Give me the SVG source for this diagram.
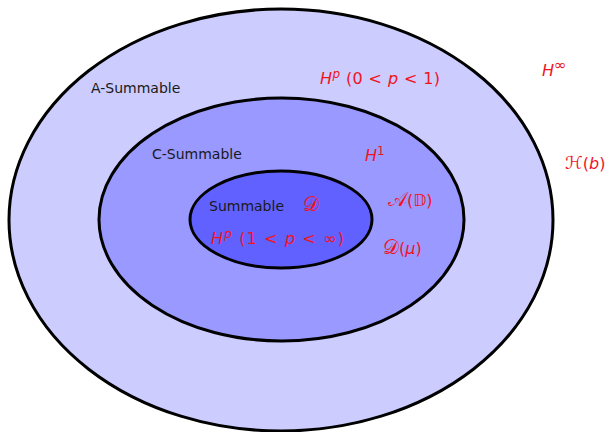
<svg xmlns="http://www.w3.org/2000/svg" width="605" height="432" viewBox="0 0 605 432">
<style>
.e{stroke:#000;stroke-width:3}
.l{font-family:"DejaVu Sans","Liberation Sans",sans-serif;font-size:14px;fill:#1a1a1a}
.m{font-family:"DejaVu Sans","Liberation Sans",sans-serif;font-size:16px;fill:#f0141e}
.i{font-style:italic}
.s{font-size:12px}
.c{font-size:20px}
</style>
<rect width="605" height="432" fill="#fff"/>
<g id="a-summable"><ellipse class="e" cx="281" cy="220" rx="272" ry="211" fill="#ccccff"/></g>
<g id="c-summable"><ellipse class="e" cx="281.5" cy="219.5" rx="182.5" ry="121.5" fill="#9999ff"/></g>
<g id="summable"><ellipse class="e" cx="281" cy="219.5" rx="91" ry="48.5" fill="#6161ff"/></g>
<g id="connectors"></g>
<g id="labels">
<text class="l" x="91" y="93">A-Summable</text>
<text class="l" x="152" y="159">C-Summable</text>
<text class="l" x="209" y="211">Summable</text>
<text class="m" x="320" y="84" textLength="120"><tspan class="i">H</tspan><tspan class="i s" dy="-6">p</tspan><tspan dy="6"> (0 &lt; </tspan><tspan class="i">p</tspan> &lt; 1)</text>
<text class="m" x="542" y="76"><tspan class="i">H</tspan><tspan class="s" style="font-size:15px" dy="-6">∞</tspan></text>
<text class="m" x="365" y="161"><tspan class="i">H</tspan><tspan class="s" dy="-6">1</tspan></text>
<text class="m" x="565" y="169"><tspan style="font-size:18px">ℋ</tspan>(<tspan class="i">b</tspan>)</text>
<text class="m" x="303" y="211"><tspan class="c">𝒟</tspan></text>
<text class="m" x="388" y="206"><tspan class="c">𝒜</tspan>(𝔻)</text>
<text class="m" x="211" y="244" textLength="133"><tspan class="i">H</tspan><tspan class="i s" dy="-6">p</tspan><tspan dy="6"> (1 &lt; </tspan><tspan class="i">p</tspan> &lt; ∞)</text>
<text class="m" x="383" y="254"><tspan class="c">𝒟</tspan>(<tspan class="i">μ</tspan>)</text>
</g>
</svg>
